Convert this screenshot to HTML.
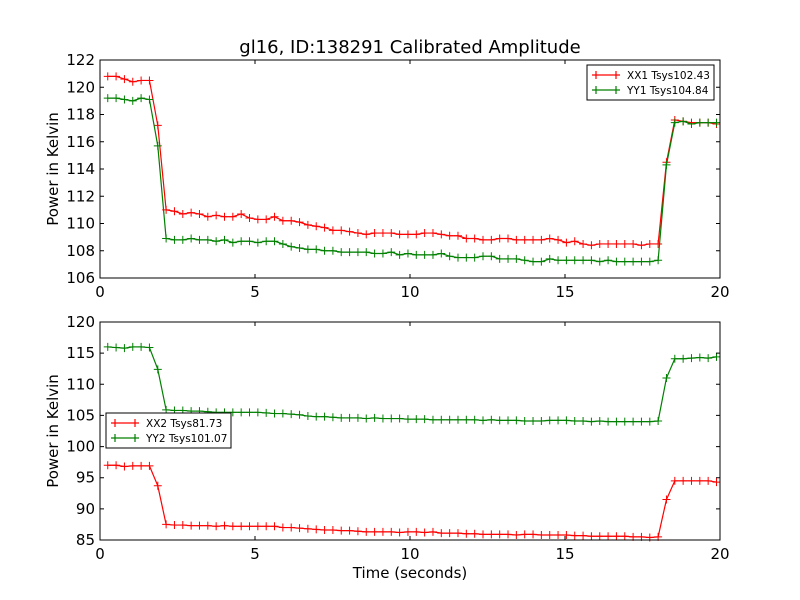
<!DOCTYPE html>
<html><head><meta charset="utf-8"><style>
body{margin:0;background:#fff;}
svg{display:block;font-family:"DejaVu Sans","Liberation Sans",sans-serif;}
</style></head><body>
<svg id="chart" width="800" height="600">
<rect width="800" height="600" fill="#fff"/>
<text x="410" y="53" font-size="18" text-anchor="middle">gl16, ID:138291 Calibrated Amplitude</text>
<g id="p1"></g><g id="p2"></g>
<text x="410" y="578" font-size="15" text-anchor="middle">Time (seconds)</text>
</svg>
<script>
const xx1 = [120.8,120.8,120.6,120.4,120.5,120.5,117.2,
111.0,110.9,110.7,110.8,110.7,110.5,110.6,110.5,110.5,110.7,
110.4,110.3,110.3,110.5,110.2,110.2,110.1,109.9,109.8,109.7,
109.5,109.5,109.4,109.3,109.2,109.3,109.3,109.3,109.2,109.2,
109.2,109.3,109.3,109.2,109.1,109.1,108.9,108.9,108.8,108.8,
108.9,108.9,108.8,108.8,108.8,108.8,108.9,108.8,108.6,108.7,
108.5,108.4,108.5,108.5,108.5,108.5,108.5,108.4,108.5,108.5,
114.5,117.6,117.5,117.4,117.4,117.4,117.3];
const yy1 = [119.2,119.2,119.1,119.0,119.2,119.1,115.7,
108.9,108.8,108.8,108.9,108.8,108.8,108.7,108.8,108.6,108.7,
108.7,108.6,108.7,108.7,108.5,108.3,108.2,108.1,108.1,108.0,
108.0,107.9,107.9,107.9,107.9,107.8,107.8,107.9,107.7,107.8,
107.7,107.7,107.7,107.8,107.6,107.5,107.5,107.5,107.6,107.6,
107.4,107.4,107.4,107.3,107.2,107.2,107.4,107.3,107.3,107.3,
107.3,107.3,107.2,107.3,107.2,107.2,107.2,107.2,107.2,107.3,
114.3,117.4,117.5,117.3,117.4,117.4,117.4];
const xx2 = [97.0,97.0,96.8,96.9,96.9,96.9,93.7,
87.5,87.4,87.4,87.3,87.3,87.3,87.2,87.3,87.2,87.2,
87.2,87.2,87.2,87.2,87.0,87.0,86.9,86.8,86.7,86.6,
86.6,86.5,86.5,86.4,86.3,86.3,86.3,86.3,86.2,86.3,
86.3,86.2,86.3,86.1,86.1,86.1,86.0,86.0,85.9,85.9,
85.9,85.9,85.8,85.9,85.9,85.8,85.8,85.8,85.8,85.7,
85.7,85.6,85.6,85.6,85.6,85.6,85.5,85.5,85.4,85.5,
91.5,94.5,94.5,94.5,94.5,94.5,94.3];
const yy2 = [116.0,115.9,115.8,116.0,116.0,115.9,112.4,
105.9,105.8,105.8,105.7,105.7,105.6,105.5,105.5,105.5,105.5,
105.5,105.5,105.4,105.3,105.3,105.2,105.1,104.9,104.8,104.8,
104.7,104.6,104.6,104.6,104.5,104.6,104.5,104.5,104.5,104.4,
104.4,104.4,104.3,104.3,104.3,104.3,104.3,104.3,104.2,104.3,
104.2,104.2,104.2,104.1,104.1,104.1,104.2,104.2,104.2,104.1,
104.1,104.0,104.1,104.0,104.0,104.0,104.0,104.0,104.0,104.1,
111.0,114.1,114.1,114.2,114.3,114.2,114.4];
const tStart = 0.25, tStep = 0.269;
const xTicks = [0,5,10,15,20];
const yTicks1 = [106,108,110,112,114,116,118,120,122];
const yTicks2 = [85,90,95,100,105,110,115,120];
const labels1 = ["XX1 Tsys102.43","YY1 Tsys104.84"];
const labels2 = ["XX2 Tsys81.73","YY2 Tsys101.07"];

const NS="http://www.w3.org/2000/svg";
function mk(parent,tag,attrs){const e=document.createElementNS(NS,tag);for(const k in attrs)e.setAttribute(k,attrs[k]);parent.appendChild(e);return e;}

function panel(gid,top,ymin,ymax,yTicks,series,labels,leg){
  const g=document.getElementById(gid);
  const L=100,R=720,T=top,B=top+218;
  const sx=v=>L+(v-0)/(20-0)*(R-L);
  const sy=v=>B-(v-ymin)/(ymax-ymin)*(B-T);
  const colors=["#ff0000","#008000"];
  series.forEach((d,si)=>{
    const pts=d.map((v,i)=>[sx(tStart+i*tStep),sy(v)]);
    const pl=mk(g,"polyline",{points:pts.map(p=>p.join(",")).join(" "),fill:"none",stroke:colors[si],"stroke-width":1.2});
    
    
    pts.forEach(p=>{
      const m=mk(g,"path",{d:`M${p[0]-4},${p[1]}h8M${p[0]},${p[1]-4}v8`,stroke:colors[si],"stroke-width":1});
      
      
    });
  });
  const fr=mk(g,"rect",{x:L,y:T,width:R-L,height:B-T,fill:"none",stroke:"#000","stroke-width":1});
  
  
  xTicks.forEach(v=>{
    const x=sx(v);
    mk(g,"path",{d:`M${x},${B}v-4M${x},${T}v4`,stroke:"#000"});
    const t=mk(g,"text",{x:x,y:B+19,"font-size":15,"text-anchor":"middle"});t.textContent=v;
    
    
  });
  yTicks.forEach(v=>{
    const y=sy(v);
    mk(g,"path",{d:`M${L},${y}h4M${R},${y}h-4`,stroke:"#000"});
    const t=mk(g,"text",{x:L-5,y:y+5,"font-size":15,"text-anchor":"end"});t.textContent=v;
    
    
  });
  const yt=mk(g,"text",{x:0,y:0,"font-size":15,"text-anchor":"middle",transform:`translate(58,${(T+B)/2}) rotate(-90)`});
  yt.textContent="Power in Kelvin";
  
  
  const lg=mk(g,"g",{});
  
  
  mk(lg,"rect",{x:leg[0],y:leg[1],width:leg[2],height:35,fill:"#fff",stroke:"#000","stroke-width":1});
  labels.forEach((s,i)=>{
    const y=leg[1]+10+i*15;
    mk(lg,"path",{d:`M${leg[0]+5},${y}h28M${leg[0]+9},${y-4}v8M${leg[0]+29},${y-4}v8`,stroke:colors[i],"stroke-width":1.2});
    const t=mk(lg,"text",{x:leg[0]+40,y:y+4,"font-size":10.5});t.textContent=s;
    
    
  });
}
panel("p1",60,106,122,yTicks1,[xx1,yy1],labels1,[587,65,127]);
panel("p2",322,85,120,yTicks2,[xx2,yy2],labels2,[106,413,125]);
</script>
</body></html>
